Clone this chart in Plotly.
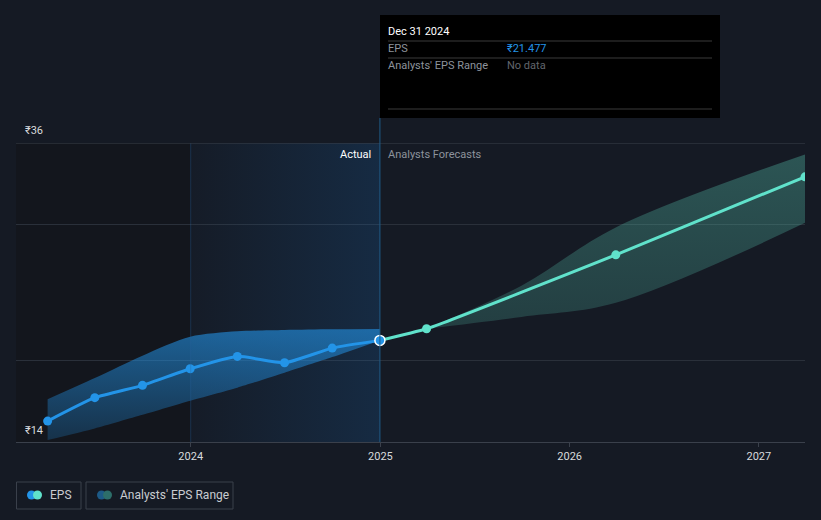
import plotly.graph_objects as go

# ---------------- data ----------------
hist_dates = ['2023-03-31', '2023-06-30', '2023-09-30', '2023-12-31',
              '2024-03-31', '2024-06-30', '2024-09-30', '2024-12-31']
hist_eps = [15.54, 17.26, 18.17, 19.39, 20.30, 19.83, 20.91, 21.477]
hist_low = [14.15, 15.0, 16.0, 17.04, 18.0, 19.1, 20.25, 21.477]
hist_high = [17.14, 18.7, 20.35, 21.74, 22.14, 22.24, 22.29, 22.31]

fc_dates = ['2024-12-31', '2025-03-31', '2026-03-31', '2027-03-31']
fc_eps = [21.477, 22.33, 27.77, 33.51]

range_dates = ['2025-03-31', '2025-09-30', '2026-03-31', '2027-03-31']
range_low = [22.33, 23.2, 24.24, 30.13]
range_high = [22.33, 25.5, 29.79, 35.15]

y_min, y_max = 14, 36
x_start, x_end = '2023-01-29', '2027-03-31'
tick_vals = ['2024-01-01', '2025-01-01', '2026-01-01', '2027-01-01']
tick_text = ['2024', '2025', '2026', '2027']
actual_start, actual_end = '2024-01-01', '2024-12-31'

# ---------------- layout helpers ----------------
W, H = 821, 520
L, R, T, B = 16, 16, 143, 78
PW, PH = W - L - R, H - T - B


def px(x):
    return (x - L) / PW


def py(y):
    return (H - B - y) / PH


BG = '#151a24'
BLUE = '#2394e8'
TEAL = '#60e2cb'
FONT = 'Roboto, Open Sans, sans-serif'

fig = go.Figure()

# Actual region gradient
fig.add_trace(go.Scatter(
    x=[actual_start, actual_end, actual_end, actual_start, actual_start],
    y=[y_min, y_min, y_max, y_max, y_min],
    mode='lines', line=dict(width=0), fill='toself',
    fillgradient=dict(type='horizontal',
                      colorscale=[[0, 'rgba(25,110,190,0.02)'], [1, 'rgba(25,110,190,0.20)']]),
    hoverinfo='skip', showlegend=False))

# Historic band
fig.add_trace(go.Scatter(x=hist_dates, y=hist_low, mode='lines',
                         line=dict(width=0, shape='spline', smoothing=0.6),
                         hoverinfo='skip', showlegend=False))
fig.add_trace(go.Scatter(x=hist_dates, y=hist_high, mode='lines',
                         line=dict(width=0, shape='spline', smoothing=0.8),
                         fill='tonexty',
                         fillgradient=dict(type='vertical',
                                           colorscale=[[0, 'rgba(35,148,232,0.22)'],
                                                       [1, 'rgba(35,148,232,0.6)']]),
                         hoverinfo='skip', showlegend=False))

# Forecast band
fig.add_trace(go.Scatter(x=range_dates, y=range_low, mode='lines',
                         line=dict(width=0, shape='spline', smoothing=1.0),
                         hoverinfo='skip', showlegend=False))
fig.add_trace(go.Scatter(x=range_dates, y=range_high, mode='lines',
                         line=dict(width=0, shape='spline', smoothing=1.0),
                         fill='tonexty',
                         fillgradient=dict(type='vertical',
                                           colorscale=[[0, 'rgba(85,190,170,0.22)'],
                                                       [1, 'rgba(85,190,170,0.36)']]),
                         hoverinfo='skip', showlegend=False))

# Forecast line
fig.add_trace(go.Scatter(x=fc_dates, y=fc_eps, mode='lines+markers',
                         line=dict(color=TEAL, width=3, shape='spline', smoothing=0.4),
                         marker=dict(color=TEAL, size=9),
                         showlegend=False))

# Historic line
fig.add_trace(go.Scatter(x=hist_dates, y=hist_eps, mode='lines+markers',
                         line=dict(color=BLUE, width=3, shape='spline', smoothing=0.5),
                         marker=dict(color=BLUE, size=9),
                         showlegend=False))
# Highlighted last point
fig.add_trace(go.Scatter(x=[hist_dates[-1]], y=[hist_eps[-1]], mode='markers',
                         marker=dict(color=BLUE, size=10, line=dict(color='white', width=1.5)),
                         showlegend=False))

shapes = []
# dark past region
shapes.append(dict(type='rect', xref='x', yref='paper', x0=x_start, x1=actual_start,
                   y0=0, y1=1, fillcolor='#13161d', line=dict(width=0), layer='below'))
# faint line at actual start
shapes.append(dict(type='line', xref='x', yref='paper', x0=actual_start, x1=actual_start,
                   y0=0, y1=1, line=dict(color='rgba(40,100,160,0.35)', width=1)))
# top border line at 36
shapes.append(dict(type='line', xref='paper', yref='y', x0=0, x1=1, y0=y_max, y1=y_max,
                   line=dict(color='#3a404b', width=1)))
# vertical line at Dec 31 2024
shapes.append(dict(type='line', xref='x', yref='paper', x0=actual_end, x1=actual_end,
                   y0=0, y1=py(118), line=dict(color='#1f5b87', width=1)))

# tooltip box
shapes.append(dict(type='rect', xref='paper', yref='paper', x0=px(380), x1=px(720),
                   y0=py(118), y1=py(15), fillcolor='#000000', line=dict(width=0)))
for yy in (41, 58, 109):
    shapes.append(dict(type='line', xref='paper', yref='paper', x0=px(388), x1=px(712),
                       y0=py(yy), y1=py(yy), line=dict(color='#3a3a3a', width=1)))

# legend boxes
shapes.append(dict(type='rect', xref='paper', yref='paper', x0=px(16.5), x1=px(81),
                   y0=py(509), y1=py(482), line=dict(color='#3a404b', width=1),
                   fillcolor='rgba(0,0,0,0)'))
shapes.append(dict(type='rect', xref='paper', yref='paper', x0=px(86), x1=px(233),
                   y0=py(509), y1=py(482), line=dict(color='#3a404b', width=1),
                   fillcolor='rgba(0,0,0,0)'))


def circle(cx, cy, r, color):
    return dict(type='circle', xref='paper', yref='paper', x0=px(cx - r), x1=px(cx + r),
                y0=py(cy + r), y1=py(cy - r), fillcolor=color, line=dict(width=0))


shapes.append(circle(31.5, 495, 4.5, BLUE))
shapes.append(circle(37.5, 495, 4.5, TEAL))
shapes.append(circle(101.5, 495, 4.5, '#1d5a87'))
shapes.append(circle(107.5, 495, 4.5, '#2d6e6a'))

annotations = []


def text(x, y, s, color, size=11, anchor='left'):
    annotations.append(dict(xref='paper', yref='paper', x=px(x), y=py(y), text=s,
                            showarrow=False, xanchor=anchor, yanchor='middle',
                            font=dict(family=FONT, size=size, color=color)))


text(23, 130, '₹36', '#d8dadd')
text(23, 430, '₹14', '#d8dadd')
text(373, 154, 'Actual', '#ffffff', anchor='right')
text(386, 154, 'Analysts Forecasts', '#8d939c')
text(386, 31, 'Dec 31 2024', '#ffffff')
text(386, 48, 'EPS', '#8d939c')
text(505, 48, '₹21.477', BLUE)
text(386, 66, "Analysts' EPS Range", '#8d939c')
text(505, 66, 'No data', '#62666d')
text(48, 495, 'EPS', '#c9ccd1', size=12)
text(118, 495, "Analysts' EPS Range", '#c9ccd1', size=12)

fig.update_layout(
    width=W, height=H,
    margin=dict(l=L, r=R, t=T, b=B),
    paper_bgcolor=BG, plot_bgcolor=BG,
    font=dict(family=FONT, color='#d8dadd'),
    showlegend=False,
    shapes=shapes,
    annotations=annotations,
    hovermode=False,
    xaxis=dict(range=[x_start, x_end], type='date', tickvals=tick_vals, ticktext=tick_text,
               showgrid=False, zeroline=False, showline=True, linecolor='#3a404b',
               ticks='outside', ticklen=4, tickcolor='#3a404b',
               tickfont=dict(family=FONT, size=11, color='#d8dadd'), fixedrange=True),
    yaxis=dict(range=[y_min, y_max], tickvals=[20, 30], showticklabels=False,
               showgrid=True, gridcolor='#2a303a', zeroline=False, showline=False,
               fixedrange=True),
)

fig.write_html('out.html', config=dict(displayModeBar=False),
               post_script="document.body.style.margin='0';document.body.style.background='#151a24';")
